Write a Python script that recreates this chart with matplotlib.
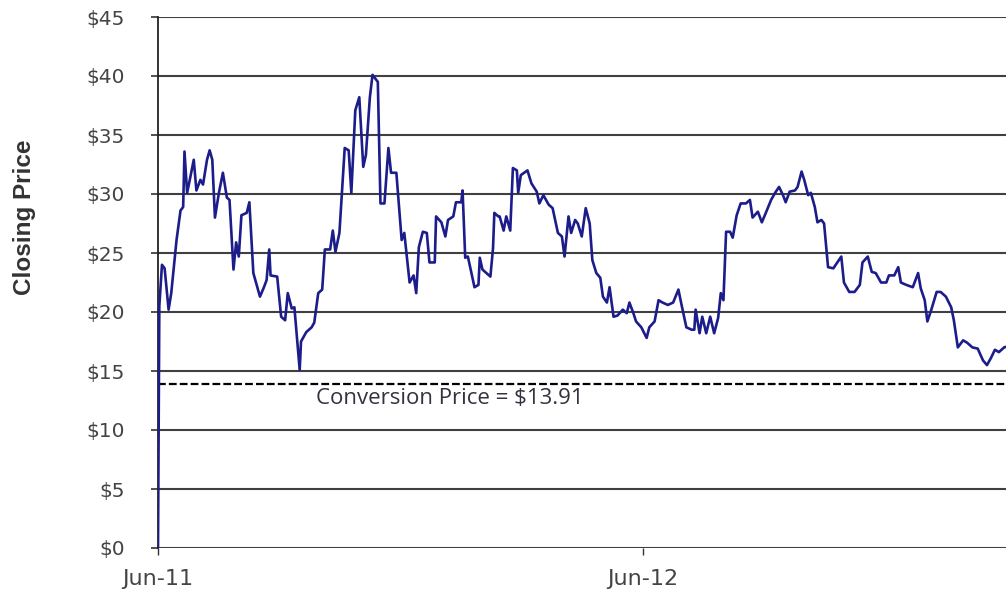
import numpy as np
import pandas as pd
import matplotlib
matplotlib.use("Agg")
import matplotlib.pyplot as plt
import matplotlib.dates as mdates

# closing prices (days counted from 1 Jun 2011)
start = "2011-06-01"
day_offset = [0, 1, 3, 5, 8, 10, 14, 17, 19, 20, 22, 24, 27, 29, 32, 34, 37, 39, 41, 43,
              46, 49, 52, 54, 57, 59, 61, 63, 67, 69, 72, 77, 80, 82, 84, 85, 90, 93, 96, 98,
              101, 103, 107, 108, 112, 116, 118, 121, 124, 126, 130, 132, 134, 137, 139, 141, 144, 146, 149, 152,
              155, 157, 160, 162, 166, 168, 171, 174, 176, 180, 184, 186, 190, 193, 195, 197, 200, 203, 205, 209,
              210, 214, 217, 219, 223, 225, 229, 230, 232, 234, 239, 242, 243, 245, 251, 253, 254, 257, 258, 261,
              263, 266, 268, 271, 272, 274, 279, 282, 286, 288, 291, 295, 298, 302, 305, 307, 310, 312, 315, 317,
              320, 323, 326, 328, 331, 334, 336, 339, 341, 344, 347, 351, 354, 356, 359, 361, 365, 369, 371, 375,
              378, 381, 385, 389, 393, 395, 399, 403, 405, 406, 409, 411, 414, 417, 420, 423, 425, 427, 429, 432,
              434, 437, 440, 444, 447, 449, 453, 456, 459, 463, 466, 469, 472, 474, 477, 481, 483, 486, 488, 491,
              493, 496, 498, 501, 503, 506, 510, 513, 516, 518, 522, 526, 530, 532, 536, 539, 542, 546, 550, 552,
              556, 559, 561, 565, 570, 574, 576, 579, 581, 584, 588, 591, 595, 599, 601, 604, 608, 611, 615, 619,
              623, 626, 629, 632, 635, 639, 642]
price = [0.0, 20.5, 24.0, 23.7, 20.2, 21.6, 26.1, 28.6, 28.9, 33.6, 30.1, 31.2, 32.9, 30.3, 31.2, 30.8, 32.9, 33.7, 32.9, 28.0,
         30.1, 31.8, 29.7, 29.5, 23.6, 25.9, 24.7, 28.2, 28.4, 29.3, 23.3, 21.3, 22.1, 22.7, 25.3, 23.1, 23.0, 19.6, 19.3, 21.6,
         20.3, 20.4, 15.1, 17.5, 18.3, 18.7, 19.1, 21.6, 21.9, 25.3, 25.3, 26.9, 25.1, 26.7, 30.3, 33.9, 33.7, 30.1, 37.1, 38.2,
         32.3, 33.3, 38.2, 40.1, 39.5, 29.2, 29.2, 33.9, 31.8, 31.8, 26.1, 26.7, 22.5, 23.1, 21.6, 25.5, 26.8, 26.7, 24.2, 24.2,
         28.1, 27.6, 26.4, 27.8, 28.1, 29.3, 29.3, 30.3, 24.6, 24.7, 22.1, 22.3, 24.6, 23.6, 23.0, 25.4, 28.4, 28.1, 28.1, 26.9,
         28.1, 26.9, 32.2, 32.0, 30.1, 31.6, 32.0, 30.9, 30.2, 29.2, 29.9, 29.1, 28.8, 26.7, 26.4, 24.7, 28.1, 26.7, 27.8, 27.5,
         26.4, 28.8, 27.5, 24.4, 23.3, 22.9, 21.3, 20.8, 22.1, 19.6, 19.7, 20.2, 19.9, 20.8, 19.9, 19.2, 18.7, 17.8, 18.7, 19.2,
         21.0, 20.8, 20.6, 20.8, 21.9, 20.8, 18.7, 18.5, 18.5, 20.2, 18.2, 19.6, 18.2, 19.6, 18.2, 19.5, 21.6, 21.0, 26.8, 26.8,
         26.3, 28.2, 29.2, 29.2, 29.5, 28.0, 28.5, 27.6, 28.4, 29.5, 30.1, 30.6, 29.9, 29.3, 30.2, 30.3, 30.6, 31.9, 31.2, 29.9,
         30.1, 28.9, 27.6, 27.8, 27.5, 23.8, 23.7, 24.2, 24.7, 22.5, 21.7, 21.7, 22.3, 24.2, 24.7, 23.4, 23.3, 22.5, 22.5, 23.1,
         23.1, 23.8, 22.5, 22.3, 22.1, 23.3, 22.0, 21.0, 19.2, 20.2, 21.7, 21.7, 21.3, 20.4, 19.3, 17.0, 17.6, 17.4, 17.0, 16.9,
         15.9, 15.5, 16.1, 16.8, 16.6, 17.0, 17.1]
conversion_price = 13.91
y_ticks = [0, 5, 10, 15, 20, 25, 30, 35, 40, 45]
x_ticks = ["2011-06-01", "2012-06-01"]

dates = pd.Timestamp(start) + pd.to_timedelta(day_offset, unit="D")

fig = plt.figure(figsize=(10.06, 5.98), dpi=100)
# axes run past the right edge of the picture, as in the reference crop
ax = fig.add_axes([158 / 1006, 50 / 598, 968 / 1006, 531 / 598])

for v in y_ticks:
    ax.axhline(v, color="#404040", lw=1.5, zorder=1)

ax.plot(dates, price, color="#1c1c8a", lw=1.9, zorder=3)
ax.axhline(conversion_price, color="black", lw=1.6, ls=(0, (3.5, 1.4)), zorder=2)

ax.set_xlim(pd.Timestamp("2011-06-01"), pd.Timestamp("2013-06-01"))
ax.set_ylim(0, 45)
ax.set_yticks(y_ticks)
ax.set_yticklabels(["${}".format(v) for v in y_ticks])
ax.set_xticks(pd.to_datetime(x_ticks))
ax.xaxis.set_major_formatter(mdates.DateFormatter("%b-%y"))

for s in ["top", "right", "bottom"]:
    ax.spines[s].set_visible(False)
ax.spines["left"].set_color("#222222")
ax.spines["left"].set_linewidth(1.3)

ax.tick_params(axis="y", length=5, width=1.2, color="#333333", pad=19, labelsize=14.5,
               labelcolor="#444444", labelfontfamily="DejaVu Sans")
ax.tick_params(axis="x", length=5, width=1, color="#333333", pad=10, labelsize=16,
               labelcolor="#444444", labelfontfamily="DejaVu Sans")

ax.text(pd.Timestamp("2011-06-01") + pd.Timedelta(days=119), conversion_price - 1.2,
        "Conversion Price = ${:.2f}".format(conversion_price),
        fontsize=16, family="Open Sans", color="#333340", va="center", ha="left")

fig.text(25 / 1006, 1 - 217 / 598, "Closing Price", rotation=90, fontsize=17.5,
         fontweight="bold", family="Liberation Sans", color="#333333",
         ha="center", va="center")

fig.savefig("out.png", dpi=100)
